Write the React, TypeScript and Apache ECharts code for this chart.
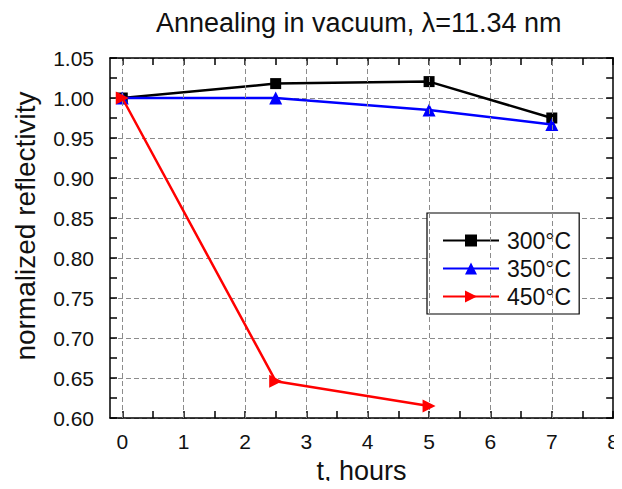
import React, { useEffect, useRef } from "react";
import * as echarts from "echarts";

// Annealing time (hours) and normalized reflectivity per annealing temperature
const hours = [0, 2.5, 5, 7];
const refl300 = [1.0, 1.018, 1.0205, 0.975];
const refl350 = [1.0, 1.0, 0.985, 0.967];
const hours450 = [0, 2.5, 5];
const refl450 = [1.0, 0.646, 0.615];

const seriesNames = ["300°C", "350°C", "450°C"];
const xTickLabels = [0, 1, 2, 3, 4, 5, 6, 7, 8];
const xTickMarks = [0, 0.5, 1, 1.5, 2, 2.5, 3, 3.5, 4, 4.5, 5, 5.5, 6, 6.5, 7, 7.5, 8];
const xGridLines = [0, 1, 2, 3, 4, 5, 6, 7];

const FONT = "'Liberation Sans', Arial, Helvetica, sans-serif";
const GRID_COLOR = "#8c8c8c";

const pairs = (xs: number[], ys: number[]) => xs.map((x, i) => [x, ys[i]]);

export default function App() {
  const ref = useRef<HTMLDivElement>(null);

  useEffect(() => {
    if (!ref.current) return;
    const chart = echarts.init(ref.current, null, { renderer: "svg" });

    const xCommon = {
      type: "value" as const,
      min: -0.2,
      max: 8,
      axisLine: { show: true, onZero: false, lineStyle: { color: "#000", width: 1.5 } },
      axisTick: {
        show: true,
        inside: true,
        length: 7,
        customValues: xTickMarks,
        lineStyle: { color: "#000", width: 1.5 },
      },
      splitLine: { show: false },
    };

    const yCommon = {
      type: "value" as const,
      min: 0.6,
      max: 1.05,
      interval: 0.05,
      axisLine: { show: true, onZero: false, lineStyle: { color: "#000", width: 1.5 } },
      axisTick: { show: true, inside: true, length: 7, lineStyle: { color: "#000", width: 1.5 } },
      minorTick: { show: true, splitNumber: 2, length: 7, lineStyle: { color: "#000", width: 1.5 } },
    };

    chart.setOption({
      animation: false,
      backgroundColor: "#fff",
      textStyle: { fontFamily: FONT },
      title: {
        text: "Annealing in vacuum, λ=11.34 nm",
        left: 151,
        top: 4,
        textStyle: { fontFamily: FONT, fontSize: 27, fontWeight: "normal", color: "#111" },
      },
      grid: { left: 110, right: 8, top: 58, bottom: 70 },
      legend: {
        orient: "vertical",
        left: 427,
        top: 213,
        width: 153,
        data: seriesNames,
        padding: [16, 8, 6, 15],
        itemGap: 5,
        itemWidth: 56,
        itemHeight: 15,
        backgroundColor: "#fff",
        borderColor: "#000",
        borderWidth: 1.2,
        textStyle: { fontFamily: FONT, fontSize: 23, color: "#111", padding: [0, 0, 0, 3] },
      },
      xAxis: [
        {
          ...xCommon,
          position: "bottom",
          name: "t, hours",
          nameLocation: "middle",
          nameGap: 39,
          nameTextStyle: { fontFamily: FONT, fontSize: 27, color: "#111" },
          axisLabel: {
            show: true,
            customValues: xTickLabels,
            margin: 13,
            fontSize: 21,
            fontFamily: FONT,
            color: "#111",
          },
        },
        {
          ...xCommon,
          position: "top",
          axisLabel: { show: false },
        },
      ],
      yAxis: [
        {
          ...yCommon,
          position: "left",
          axisLabel: {
            show: true,
            margin: 16,
            fontSize: 21,
            fontFamily: FONT,
            color: "#111",
            formatter: (v: number) => v.toFixed(2),
          },
          splitLine: { show: true, lineStyle: { color: GRID_COLOR, width: 1, type: [5, 3] } },
        },
        {
          ...yCommon,
          position: "right",
          axisLabel: { show: false },
          splitLine: { show: false },
        },
      ],
      graphic: [
        {
          type: "text",
          x: 25,
          y: 226,
          rotation: Math.PI / 2,
          style: {
            text: "normalized reflectivity",
            fontFamily: FONT,
            fontSize: 28,
            fill: "#111",
            textAlign: "center",
            textVerticalAlign: "middle",
          },
        },
      ],
      series: [
        {
          // vertical dashed grid at integer hours
          type: "line",
          data: [],
          silent: true,
          z: 1,
          markLine: {
            silent: true,
            symbol: "none",
            label: { show: false },
            lineStyle: { color: GRID_COLOR, width: 1, type: [5, 3] },
            data: xGridLines.map((v) => ({ xAxis: v })),
          },
        },
        {
          name: seriesNames[0],
          type: "line",
          data: pairs(hours, refl300),
          color: "#000000",
          symbol: "rect",
          symbolSize: 11,
          clip: false,
          z: 3,
          lineStyle: { width: 2.5, color: "#000000" },
          itemStyle: { color: "#000000" },
        },
        {
          name: seriesNames[1],
          type: "line",
          data: pairs(hours, refl350),
          color: "#0000ff",
          symbol: "triangle",
          symbolSize: 13,
          clip: false,
          z: 4,
          lineStyle: { width: 2.5, color: "#0000ff" },
          itemStyle: { color: "#0000ff" },
        },
        {
          name: seriesNames[2],
          type: "line",
          data: pairs(hours450, refl450),
          color: "#ff0000",
          symbol: "triangle",
          symbolRotate: -90,
          symbolSize: 13,
          clip: false,
          z: 5,
          lineStyle: { width: 2.5, color: "#ff0000" },
          itemStyle: { color: "#ff0000" },
        },
      ],
    });

    return () => chart.dispose();
  }, []);

  return <div ref={ref} style={{ width: 622, height: 489, margin: -8 }} />;
}
